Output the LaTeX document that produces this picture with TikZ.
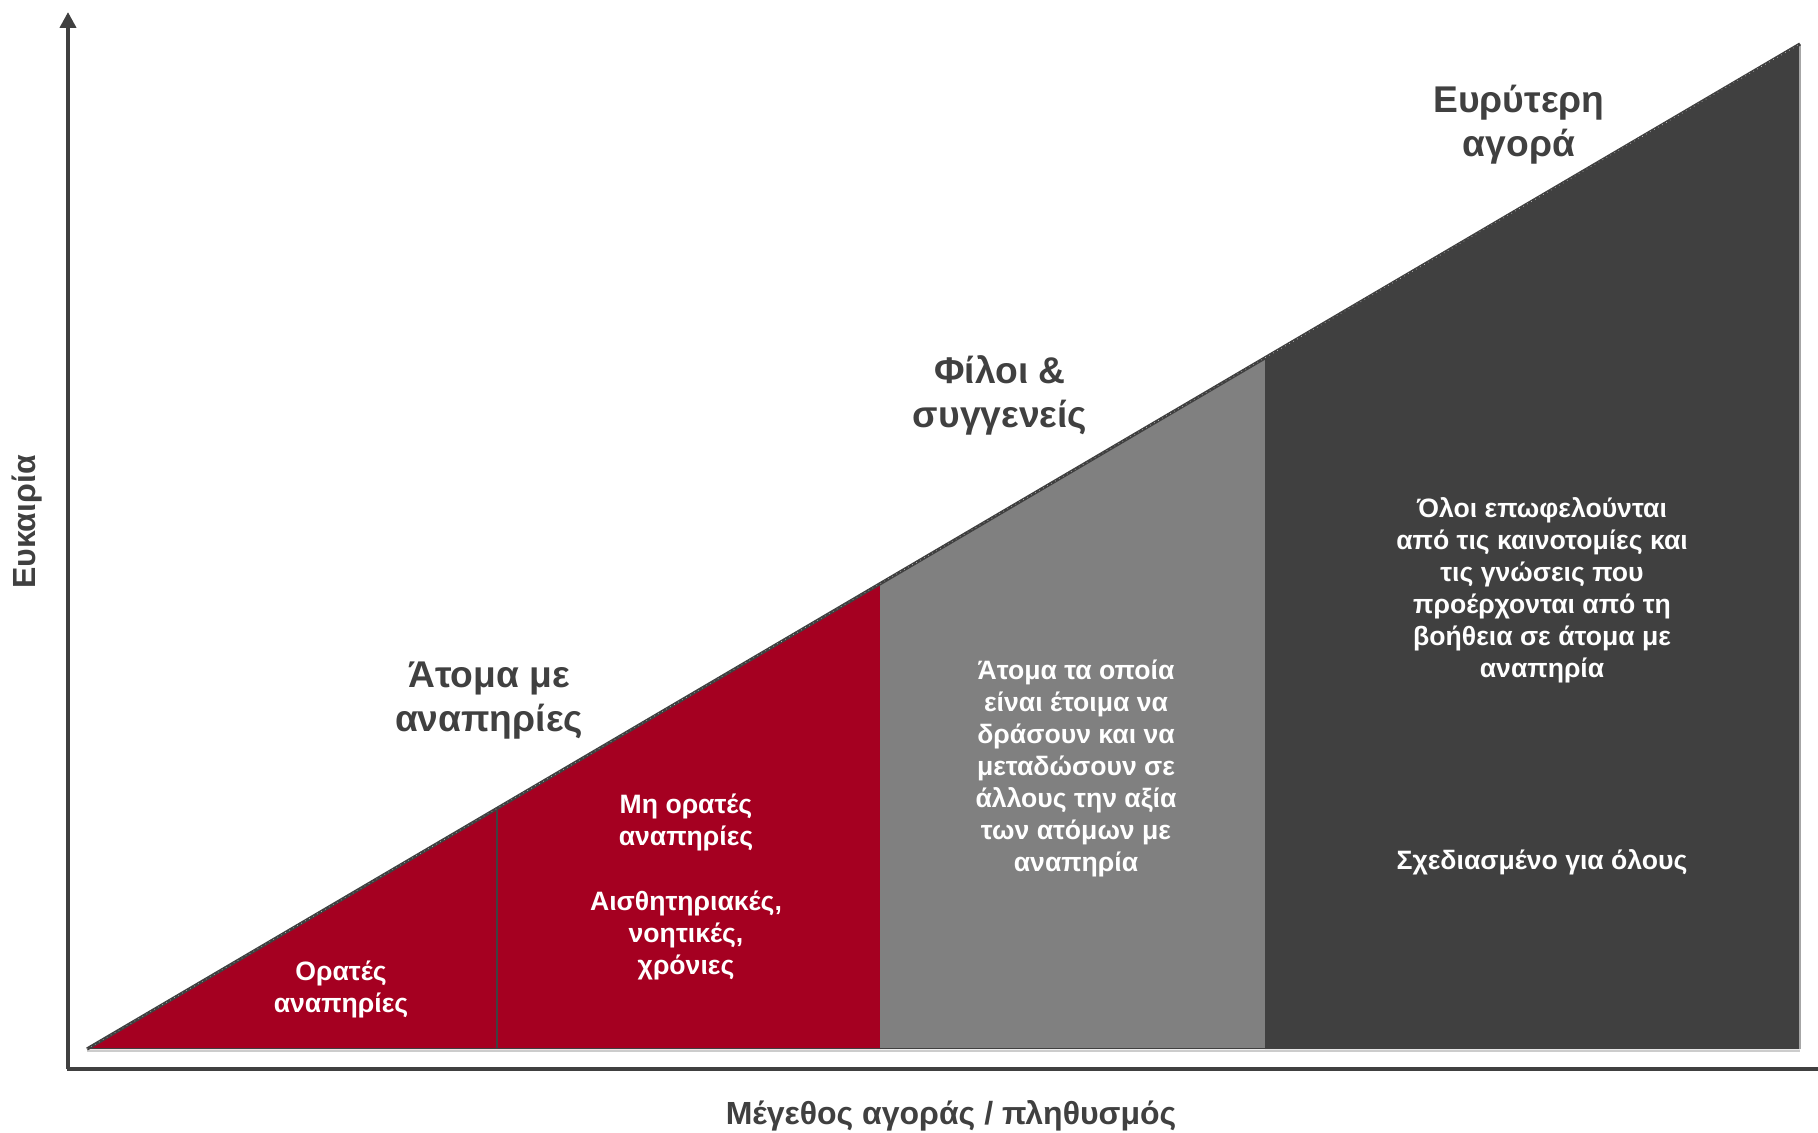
\documentclass[tikz,border=0pt]{standalone}
\usepackage{fontspec}
\setmainfont{Liberation Sans}
\usetikzlibrary{arrows.meta}
\definecolor{cred}{HTML}{A50021}
\definecolor{cgray}{HTML}{808080}
\definecolor{cdark}{HTML}{404040}
\begin{document}
\begin{tikzpicture}[x=0.5pt,y=-0.5pt,
  big/.style={font=\fontsize{18.6}{22}\selectfont\bfseries, text=cdark, align=center, inner sep=0pt},
  wht/.style={font=\fontsize{13.3}{16}\selectfont\bfseries, text=white, align=center, inner sep=0pt},
  axislab/.style={font=\fontsize{16}{18}\selectfont\bfseries, text=cdark, inner sep=0pt}]
\useasboundingbox (0,0) rectangle (1818,1133);
\coordinate (L) at (87,1049);
\coordinate (T) at (1800,44);
\coordinate (D1) at (497,808.5);
\coordinate (D2) at (880,583.7);
\coordinate (D3) at (1265,357.9);
% regions
\fill[cred] (L) -- (D1) -- (D2) -- (880,1049) -- cycle;
\fill[cgray] (D2) -- (D3) -- (1265,1049) -- (880,1049) -- cycle;
\fill[cdark] (D3) -- (T) -- (1800,1049) -- (1265,1049) -- cycle;
\draw[cdark, line width=0.7pt] (D1) -- (497,1049);
\draw[gray!40, line width=1.2pt] (87,1051) -- (1800,1051);
\draw[cdark, line width=0.6pt] (87,1048.5) -- (1800,1048.5);
\draw[gray!70, line width=0.6pt] (T) -- (1800,1049);
\draw[cdark, line width=1.6pt] (L) -- (T);
\draw[white!85!black, dotted, line width=0.3pt] (L) -- (T);
% axes
\draw[cdark, line width=2.2pt, -{Triangle[length=8pt,width=8pt]}] (68,1069) -- (68,12);
\draw[cdark, line width=2pt] (66.9,1069) -- (1818,1069);
% labels
\node[big] (l3) at (1519,125) {Ευρύτερη\\αγορά};
\node[big] (l2) at (1000,395) {Φίλοι \&\\συγγενείς};
\node[big] (l1) at (489,701) {Άτομα με\\αναπηρίες};
\node[wht] (r1) at (341,989) {Ορατές\\αναπηρίες};
\node[wht] (r2a) at (686,822) {Μη ορατές\\αναπηρίες};
\node[wht] (r2b) at (686,935) {Αισθητηριακές,\\νοητικές,\\χρόνιες};
\node[wht] (g1) at (1076,768) {Άτομα τα οποία\\είναι έτοιμα να\\δράσουν και να\\μεταδώσουν σε\\άλλους την αξία\\των ατόμων με\\αναπηρία};
\node[wht] (k1) at (1542,590) {Όλοι επωφελούνται\\από τις καινοτομίες και\\τις γνώσεις που\\προέρχονται από τη\\βοήθεια σε άτομα με\\αναπηρία};
\node[wht] (k2) at (1542,862) {Σχεδιασμένο για όλους};
\node[axislab] (xl) at (951,1116) {Μέγεθος αγοράς / πληθυσμός};
\node[axislab, rotate=90] (yl) at (27,522) {Ευκαιρία};
\end{tikzpicture}
\end{document}
